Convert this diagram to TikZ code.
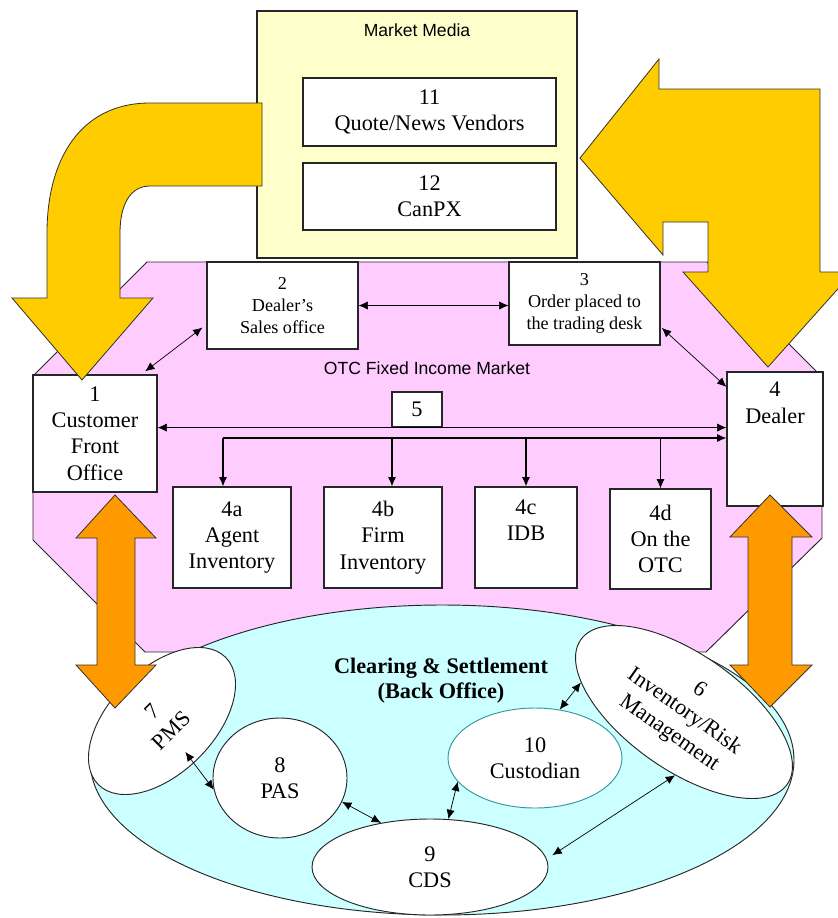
\documentclass[tikz,border=0pt]{standalone}
\usepackage{fontspec}
\setmainfont{Liberation Serif}
\newfontfamily\guisans{Liberation Sans}
\usepackage{tikz}
\usetikzlibrary{positioning,shapes.geometric,arrows.meta,calc}

\definecolor{mediayellow}{RGB}{255,255,204}
\definecolor{otcpink}{RGB}{255,204,255}
\definecolor{backcyan}{RGB}{204,255,255}
\definecolor{flowgold}{RGB}{255,204,0}
\definecolor{floworange}{RGB}{255,153,0}
\definecolor{custteal}{RGB}{51,153,153}

\newcommand{\bigtxt}{\fontsize{19}{22.5}\selectfont}
\newcommand{\smalltxt}{\fontsize{15.5}{19}\selectfont}
\newcommand{\guitxt}{\guisans\fontsize{15}{18}\selectfont}

\tikzset{
  box/.style={draw=black!85, fill=white, line width=1pt, inner sep=0pt, align=center, font=\bigtxt},
  oval/.style={ellipse, draw=black!85, fill=white, line width=0.8pt, inner sep=0pt, align=center, font=\bigtxt},
  link/.style={{Latex[length=8pt,width=7pt]}-{Latex[length=8pt,width=7pt]}, line width=0.6pt},
  feed/.style={-{Latex[length=8pt,width=7pt]}, line width=0.9pt},
  bigflow/.style={draw=black!80, line width=0.7pt, fill=flowgold},
  backflow/.style={draw=black!80, line width=0.7pt, fill=floworange},
}

\begin{document}
\begin{tikzpicture}[x=0.3mm,y=-0.3mm]
  % Page frame
  \useasboundingbox (0,0) rectangle (838,918);
  \clip (0,0) rectangle (838,918);

  % OTC market area
  \draw[fill=otcpink, draw=black!85, line width=0.8pt] (147,262) -- (707,262) -- (822,377) -- (822,538) -- (706,652) -- (145,652) -- (33,540) -- (33,376) -- cycle;
  \node[font=\guitxt] (otc) at (427,368) {OTC Fixed Income Market};

  % Back office area
  \draw[fill=backcyan, draw=black!85, line width=0.8pt] (442,760) ellipse [x radius=352, y radius=155];
  \node[font=\fontsize{19}{21.5}\selectfont\bfseries, align=center] (clear) at (441,681) {Clearing \& Settlement\\(Back Office)};

  % Market media
  \node[box, fill=mediayellow, minimum width=96mm, minimum height=74.1mm] (media) at (417,134.5) {};
  \node[font=\guitxt] (mediatitle) at (417,30) {Market Media};
  \node[box, minimum width=75.9mm, minimum height=20.4mm] (quote) at (429.5,112) {11\\Quote/News Vendors};
  \node[box, minimum width=75.9mm, minimum height=20.1mm] (canpx) at (429.5,196.5) {12\\CanPX};

  % Front office side
  \node[box, font=\smalltxt, minimum width=45.3mm, minimum height=26.1mm] (sales) at (282.5,305.5) {2\\Dealer’s\\Sales office};
  \node[box, font=\smalltxt, minimum width=45.3mm, minimum height=24.9mm] (desk) at (584.5,303.5) {3\\Order placed to\\the trading desk};
  \node[box, minimum width=37.2mm, minimum height=35.1mm] (front) at (95,433.5) {1\\Customer\\Front\\Office};
  \node[box, minimum width=28.8mm, minimum height=40.2mm] (dealer) at (775,439) {};
  \node[font=\bigtxt, align=center, below=2mm of dealer.north] (dealertxt) {4\\Dealer};
  \node[box, minimum width=15mm, minimum height=10.5mm] (five) at (417,409.5) {5};

  % Execution venues
  \node[box, minimum width=35.4mm, minimum height=30.3mm] (agent) at (232,537.5) {4a\\Agent\\Inventory};
  \node[box, minimum width=35.4mm, minimum height=30.3mm] (firm) at (383,537.5) {4b\\Firm\\Inventory};
  \node[box, minimum width=30.6mm, minimum height=30.3mm] (idb) at (526,537.5) {4c\\IDB\\\strut};
  \node[box, minimum width=30.3mm, minimum height=30mm] (otcvenue) at (660.5,539) {4d\\On the\\OTC};

  % Order flow
  \draw[link, shorten <=1.5mm, shorten >=1.5mm] (front.52) -- (sales.194);
  \draw[link] (sales.east) -- (sales.east -| desk.west);
  \draw[link, shorten <=0.5mm] (desk.-17) -- (dealer.133);
  \draw[link] (front.east |- five.south) -- (dealer.west |- five.south);
  \coordinate (bus) at (223,438);
  \coordinate (firmdrop) at ([xshift=2.7mm]firm.north);
  \draw[feed] (bus) -- (bus -| dealer.west);
  \draw[feed] (bus) -- (bus |- agent.north);
  \draw[feed] (firmdrop |- bus) -- (firmdrop);
  \draw[feed] (idb.north |- bus) -- (idb.north);
  \draw[feed] (otcvenue.north |- bus) -- (otcvenue.north);

  % Back office systems
  \node[oval, rotate=45, minimum width=54mm, minimum height=31.2mm] (pms) at (162,721) {7\\PMS};
  \node[oval, minimum width=40.2mm, minimum height=36mm] (pas) at (280,778) {8\\PAS};
  \node[oval, minimum width=70.8mm, minimum height=28.8mm] (cds) at (430,867) {9\\CDS};
  \node[oval, draw=custteal, minimum width=52.2mm, minimum height=30mm] (cust) at (535,758) {10\\Custodian};
  \node[oval, rotate=-35, minimum width=75.6mm, minimum height=34.8mm] (inv) at (684,712) {6\\Inventory/Risk\\Management};

  \draw[link] (pas.190) -- ($(pms.center)!0.45!(pas.190)$);
  \draw[link] (pas.-21) -- (cds.138);
  \draw[link] (cust.197) -- (cds.69);
  \draw[link] (cust.63) -- (inv.199);
  \draw[link, shorten <=2mm] (cds.4) -- (inv.297);

  % Market data feeds
  \draw[bigflow] (262,103) -- (150,103) .. controls (80,103) and (47,160) .. (47,233) -- (47,298) -- (12,298) -- (82,380) -- (153,298) -- (120,298) -- (120,233) .. controls (120,205) and (130,186) .. (150,186) -- (262,186) -- cycle;
  \draw[bigflow] (580,158) -- (659,59) -- (659,89) -- (820,89) -- (820,272) -- (853,272) -- (768,367) -- (683,272) -- (708,272) -- (708,222) -- (663,222) -- (663,255) -- cycle;

  % Settlement links
  \draw[backflow] (115,495) -- (156,538) -- (135,538) -- (135,665) -- (156,665) -- (115,708) -- (76,665) -- (97,665) -- (97,538) -- (76,538) -- cycle;
  \draw[backflow] (770,495) -- (812,537) -- (792,537) -- (792,665) -- (812,665) -- (770,707) -- (730,665) -- (748,665) -- (748,537) -- (730,537) -- cycle;
\end{tikzpicture}
\end{document}
